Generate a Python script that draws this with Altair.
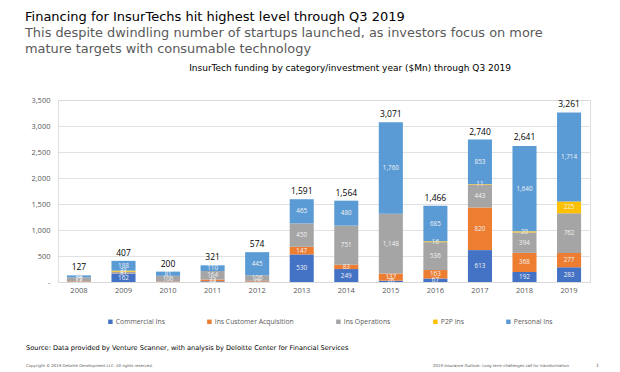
import altair as alt
import pandas as pd

years = ["2008", "2009", "2010", "2011", "2012", "2013", "2014", "2015", "2016", "2017", "2018", "2019"]
series = ["Commercial Ins", "Ins Customer Acquisition", "Ins Operations", "P2P Ins", "Personal Ins"]
colors = ["#4472C4", "#ED7D31", "#A5A5A5", "#FFC000", "#5B9BD5"]

commercial = [3, 162, 5, 14, 8, 530, 249, 26, 67, 613, 192, 283]
cust_acq   = [11, 5, 8, 33, 15, 147, 83, 137, 163, 820, 368, 277]
operations = [75, 31, 106, 164, 106, 450, 751, 1148, 536, 443, 394, 762]
p2p        = [0, 21, 0, 0, 0, 0, 1, 0, 16, 11, 20, 225]
personal   = [38, 188, 81, 110, 445, 465, 480, 1760, 685, 853, 1640, 1714]
totals     = [127, 407, 200, 321, 574, 1591, 1564, 3071, 1466, 2740, 2641, 3261]
y_ticks    = [0, 500, 1000, 1500, 2000, 2500, 3000, 3500]

values = [commercial, cust_acq, operations, p2p, personal]
rows = []
for si, s in enumerate(series):
    for yi, y in enumerate(years):
        rows.append({"year": y, "series": s, "idx": si, "value": values[si][yi]})
df = pd.DataFrame(rows)
tot_df = pd.DataFrame({"year": years, "total": totals})

FONT = "Open Sans"
TFONT = "DejaVu Sans"
yscale = alt.Scale(domain=[0, 3500], nice=False)
xscale = alt.Scale(paddingInner=0.46, paddingOuter=0.2)
xaxis = alt.Axis(labelAngle=0, ticks=False, domain=True, domainColor="#d9d9d9",
                 labelColor="#595959", labelFontSize=7.5, labelFont=FONT, labelPadding=4)
yaxis = alt.Axis(values=y_ticks, tickCount=8,
                 labelExpr="datum.value == 0 ? '-' : format(datum.value, ',')",
                 labelOverlap=False,
                 ticks=False, domain=False, gridColor="#d9d9d9", gridWidth=0.8,
                 labelColor="#595959", labelFontSize=7.5, labelFont=FONT, labelPadding=8)

bars = alt.Chart(df).mark_bar().encode(
    x=alt.X("year:N", sort=years, title=None, scale=xscale, axis=xaxis),
    y=alt.Y("value:Q", stack="zero", title=None, scale=yscale, axis=yaxis),
    color=alt.Color("series:N", scale=alt.Scale(domain=series, range=colors),
                    legend=alt.Legend(title=None, orient="none", direction="horizontal",
                                      legendX=49, legendY=218, symbolType="square", symbolSize=20,
                                      labelFontSize=6.8, labelFont=FONT, labelColor="#595959",
                                      columnPadding=41, symbolStrokeWidth=0, labelOffset=2)),
    order=alt.Order("idx:Q", sort="ascending"),
)

seg_labels = alt.Chart(df).transform_filter("datum.value >= 10").transform_window(
    cum="sum(value)", sort=[alt.SortField("idx")], groupby=["year"], frame=[None, 0]
).transform_calculate(mid="datum.cum - datum.value / 2").mark_text(
    fontSize=6.3, color="#f2f2f2", font=FONT, baseline="middle"
).encode(
    x=alt.X("year:N", sort=years, title=None, scale=xscale, axis=xaxis),
    y=alt.Y("mid:Q", title=None, scale=yscale, axis=yaxis),
    text=alt.Text("value:Q", format=","),
)

tot_labels = alt.Chart(tot_df).mark_text(
    fontSize=8.5, color="#000000", font=FONT, baseline="bottom", dy=-3
).encode(
    x=alt.X("year:N", sort=years, title=None, scale=xscale, axis=xaxis),
    y=alt.Y("total:Q", title=None, scale=yscale, axis=yaxis),
    text=alt.Text("total:Q", format=","),
)

def note(txt, x, y, size, color, align="left", font=TFONT):
    return alt.Chart(pd.DataFrame({"t": [txt]})).mark_text(
        fontSize=size, color=color, font=font, align=align, baseline="middle"
    ).encode(text="t:N", x=alt.value(x), y=alt.value(y))

# plot origin at page (58, 100)
notes = [
    note("Financing for InsurTechs hit highest level through Q3 2019", -33, -83, 13, "#000000"),
    note("This despite dwindling number of startups launched, as investors focus on more", -33, -67, 12.9, "#595959"),
    note("mature targets with consumable technology", -33, -51, 12.9, "#595959"),
    note("InsurTech funding by category/investment year ($Mn) through Q3 2019", 292, -32, 9, "#000000", align="center"),
    note("Source: Data provided by Venture Scanner, with analysis by Deloitte Center for Financial Services", -32, 247.5, 6.6, "#000000"),
    note("Copyright \u00a9 2019 Deloitte Development LLC. All rights reserved.", -32, 266, 3.9, "#595959"),
    note("2019 Insurance Outlook: Long term challenges call for transformation", 375, 266, 3.9, "#595959"),
    note("1", 538, 266, 4.5, "#595959"),
]

chart = alt.layer(bars, seg_labels, tot_labels, *notes).properties(
    width=532, height=182,
    autosize=alt.AutoSizeParams(type="none"),
    padding={"left": 50, "top": 92, "right": 22, "bottom": 90},
).configure_view(stroke=None).configure(background="white")

chart.save("out.html", embed_options={"renderer": "svg", "actions": False})
